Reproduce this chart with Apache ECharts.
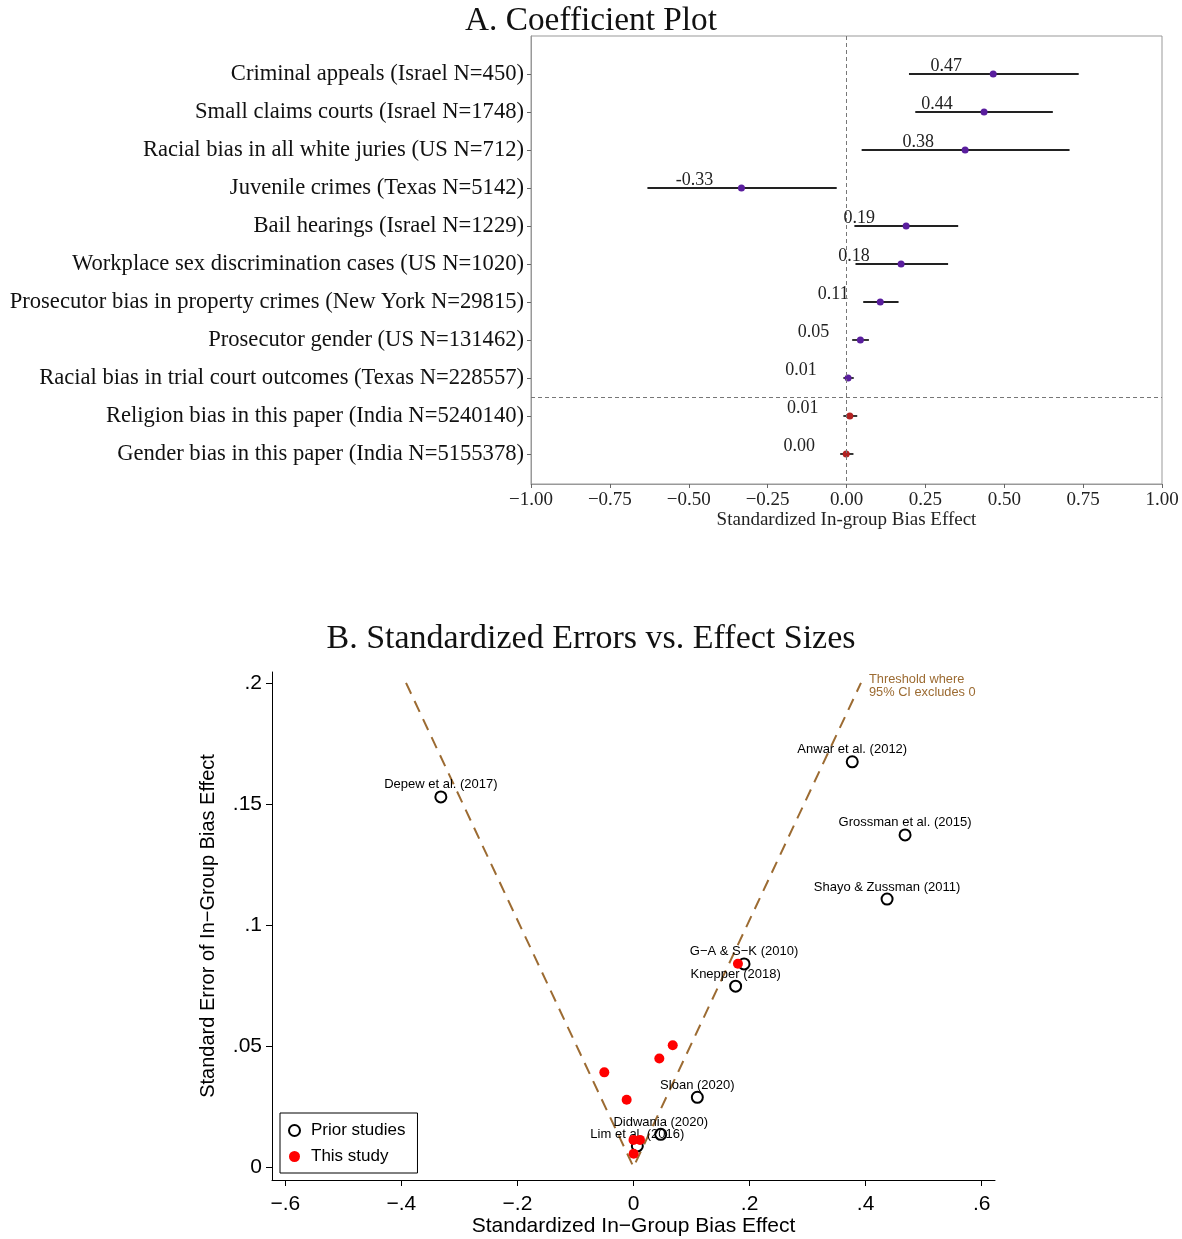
<!DOCTYPE html>
<html>
<head>
<meta charset="utf-8">
<script src="https://cdn.jsdelivr.net/npm/echarts@6/dist/echarts.min.js"></script>
<style>
html,body{margin:0;padding:0;background:#fff;}
#chart{width:1182px;height:1239px;}
</style>
</head>
<body>
<div id="chart"></div>
<script>
// ---------- Panel A data ----------
const rowLabels = [
  'Criminal appeals (Israel N=450)',
  'Small claims courts (Israel N=1748)',
  'Racial bias in all white juries (US N=712)',
  'Juvenile crimes (Texas N=5142)',
  'Bail hearings (Israel N=1229)',
  'Workplace sex discrimination cases (US N=1020)',
  'Prosecutor bias in property crimes (New York N=29815)',
  'Prosecutor gender (US N=131462)',
  'Racial bias in trial court outcomes (Texas N=228557)',
  'Religion bias in this paper (India N=5240140)',
  'Gender bias in this paper (India N=5155378)'
];
const pointEst = [0.465, 0.436, 0.376, -0.333, 0.189, 0.173, 0.107, 0.044, 0.005, 0.0105, -0.001];
const ciLow    = [0.198, 0.218, 0.048, -0.631, 0.025, 0.0285, 0.053, 0.018, -0.010, -0.010, -0.020];
const ciHigh   = [0.736, 0.654, 0.707, -0.031, 0.354, 0.322, 0.165, 0.071, 0.023, 0.034, 0.022];
const pointText = ['0.47', '0.44', '0.38', '-0.33', '0.19', '0.18', '0.11', '0.05', '0.01', '0.01', '0.00'];
const rowGroup = ['prior','prior','prior','prior','prior','prior','prior','prior','prior','this','this'];

// ---------- Panel B data ----------
const priorNames  = ['Depew et al. (2017)', 'Anwar et al. (2012)', 'Grossman et al. (2015)', 'Shayo & Zussman (2011)',
                     'G\u2212A & S\u2212K (2010)', 'Knepper (2018)', 'Sloan (2020)', 'Didwania (2020)', 'Lim et al. (2016)'];
const priorEffect = [-0.332, 0.377, 0.468, 0.437, 0.1905, 0.176, 0.110, 0.0469, 0.0066];
const priorSE     = [0.1529, 0.1674, 0.1372, 0.1107, 0.0839, 0.0747, 0.0288, 0.0135, 0.0087];
const studyEffect = [0.180, 0.0676, 0.0445, -0.0503, -0.0118, 0.000, 0.0112, 0.0003];
const studySE     = [0.0840, 0.0503, 0.0448, 0.0391, 0.0278, 0.0112, 0.0112, 0.0055];
const thresholdEffect = [-0.392, 0, 0.392];
const thresholdSE     = [0.2, 0, 0.2];
const thresholdText = 'Threshold where\n95% CI excludes 0';
const bottomXTicks = [-0.6, -0.4, -0.2, 0, 0.2, 0.4, 0.6];
const bottomYTicks = [0, 0.05, 0.1, 0.15, 0.2];

// ---------- helpers ----------
const SERIF = '"Liberation Serif", "DejaVu Serif", serif';
const SANS = '"Liberation Sans", Arial, sans-serif';
const PURPLE = '#5a1e9e';
const DARKRED = '#b22222';
const BROWN = '#9c6b32';
function stataFmt(v) {
  if (Math.abs(v) < 1e-9) return '0';
  const s = String(Math.abs(v)).replace(/^0/, '');
  return (v < 0 ? '\u2212' : '') + s;
}

const rowIdx = rowLabels.map((_, i) => i + 1);

const option = {
  animation: false,
  backgroundColor: '#fff',
  title: [
    { text: 'A. Coefficient Plot', left: 'center', top: 0,
      textStyle: { fontFamily: SERIF, fontSize: 33.3, fontWeight: 'normal', color: '#111' } },
    { text: 'B. Standardized Errors vs. Effect Sizes', left: 'center', top: 617,
      textStyle: { fontFamily: SERIF, fontSize: 34, fontWeight: 'normal', color: '#111' } }
  ],
  legend: {
    left: 280, top: 1113, orient: 'vertical',
    padding: [9, 12, 8, 8], itemGap: 9, itemWidth: 11, itemHeight: 11,
    borderColor: '#000', borderWidth: 1, backgroundColor: '#fff',
    textStyle: { fontFamily: SANS, fontSize: 17, color: '#000', padding: [0, 0, 0, 6] },
    data: [
      { name: 'Prior studies', icon: 'circle', itemStyle: { color: '#fff', borderColor: '#000', borderWidth: 2, opacity: 1 } },
      { name: 'This study', icon: 'circle', itemStyle: { color: '#ff0000', opacity: 1 } }
    ]
  },
  grid: [
    { left: 531, right: 20, top: 36, bottom: 755, show: true, borderColor: '#999', borderWidth: 1, containLabel: false },
    { left: 272, right: 187, top: 672, bottom: 59, containLabel: false }
  ],
  xAxis: [
    {
      gridIndex: 0, type: 'value', min: -1, max: 1, interval: 0.25,
      name: 'Standardized In-group Bias Effect', nameLocation: 'middle', nameGap: 26,
      nameTextStyle: { fontFamily: SERIF, fontSize: 19, color: '#222' },
      axisLine: { show: true, onZero: false, lineStyle: { color: '#999', width: 1 } },
      axisTick: { show: true, length: 4, lineStyle: { color: '#666' } },
      splitLine: { show: false },
      axisLabel: { fontFamily: SERIF, fontSize: 19, color: '#222', margin: 7,
        formatter: v => (v < 0 ? '\u2212' : '') + Math.abs(v).toFixed(2) }
    },
    {
      gridIndex: 1, type: 'value', min: -0.623, max: 0.623,
      name: 'Standardized In\u2212Group Bias Effect', nameLocation: 'middle', nameGap: 36,
      nameTextStyle: { fontFamily: SANS, fontSize: 21, color: '#000' },
      axisLine: { show: true, onZero: false, lineStyle: { color: '#000', width: 1 } },
      axisTick: { show: true, length: 6, customValues: bottomXTicks, lineStyle: { color: '#000' } },
      splitLine: { show: false },
      axisLabel: { fontFamily: SANS, fontSize: 21, color: '#000', margin: 14, customValues: bottomXTicks, formatter: stataFmt }
    }
  ],
  yAxis: [
    {
      gridIndex: 0, type: 'value', inverse: true, min: 0, max: 11.79,
      axisLine: { show: true, onZero: false, lineStyle: { color: '#999', width: 1 } },
      axisTick: { show: true, length: 4, customValues: rowIdx, lineStyle: { color: '#666' } },
      splitLine: { show: false },
      axisLabel: { fontFamily: SERIF, fontSize: 22.6, color: '#111', margin: 7, customValues: rowIdx,
        padding: [4, 0, 0, 0],
        formatter: v => rowLabels[Math.round(v) - 1] || '' }
    },
    {
      gridIndex: 1, type: 'value', min: -0.00537, max: 0.2045,
      name: 'Standard Error of In\u2212Group Bias Effect', nameLocation: 'middle', nameGap: 54, nameRotate: 90,
      nameTextStyle: { fontFamily: SANS, fontSize: 20, color: '#000' },
      axisLine: { show: true, onZero: false, lineStyle: { color: '#000', width: 1 } },
      axisTick: { show: true, length: 6, customValues: bottomYTicks, lineStyle: { color: '#000' } },
      splitLine: { show: false },
      axisLabel: { fontFamily: SANS, fontSize: 21, color: '#000', margin: 10, customValues: bottomYTicks, formatter: stataFmt }
    }
  ],
  series: [
    // Panel A: CI bars
    {
      type: 'custom', xAxisIndex: 0, yAxisIndex: 0,
      data: rowIdx.map((r, i) => [ciLow[i], ciHigh[i], r]),
      renderItem: function (params, api) {
        const p1 = api.coord([api.value(0), api.value(2)]);
        const p2 = api.coord([api.value(1), api.value(2)]);
        return { type: 'line', shape: { x1: p1[0], y1: p1[1], x2: p2[0], y2: p2[1] },
          style: { stroke: '#222', lineWidth: 1.8 } };
      },
      markLine: {
        silent: true, symbol: 'none', label: { show: false },
        lineStyle: { color: '#777', type: [4, 3], width: 1 },
        data: [{ xAxis: 0 }, { yAxis: 9.5 }]
      },
      z: 2
    },
    // Panel A: point estimates
    {
      type: 'scatter', xAxisIndex: 0, yAxisIndex: 0, symbol: 'circle', symbolSize: 7,
      data: rowIdx.map((r, i) => ({
        value: [pointEst[i], r],
        itemStyle: { color: rowGroup[i] === 'this' ? DARKRED : PURPLE, opacity: 1 },
        label: { formatter: pointText[i] }
      })),
      label: { show: true, position: 'top', distance: 0, offset: [-47, 5],
        fontFamily: SERIF, fontSize: 18, color: '#222' },
      z: 3
    },
    // Panel B: threshold
    {
      type: 'line', xAxisIndex: 1, yAxisIndex: 1, symbol: 'none', silent: true,
      data: thresholdEffect.map((x, i) => [x, thresholdSE[i]]),
      lineStyle: { color: BROWN, width: 2, type: [12, 8] },
      endLabel: { show: true, formatter: thresholdText, distance: 8, offset: [0, 3],
        fontFamily: SANS, fontSize: 12.8, lineHeight: 13, color: BROWN, align: 'left' },
      z: 1
    },
    // Panel B: prior studies
    {
      name: 'Prior studies', type: 'scatter', xAxisIndex: 1, yAxisIndex: 1,
      symbol: 'circle', symbolSize: 11,
      itemStyle: { color: 'rgba(255,255,255,0)', borderColor: '#000', borderWidth: 2, opacity: 1 },
      data: priorEffect.map((x, i) => ({ value: [x, priorSE[i]], name: priorNames[i] })),
      label: { show: true, position: 'top', distance: -1, formatter: p => p.name,
        fontFamily: SANS, fontSize: 13, color: '#000' },
      z: 3
    },
    // Panel B: this study
    {
      name: 'This study', type: 'scatter', xAxisIndex: 1, yAxisIndex: 1,
      symbol: 'circle', symbolSize: 10,
      itemStyle: { color: '#ff0000', opacity: 1 },
      data: studyEffect.map((x, i) => [x, studySE[i]]),
      z: 4
    }
  ]
};

const chart = echarts.init(document.getElementById('chart'), null, { renderer: 'canvas' });
chart.setOption(option);
</script>
</body>
</html>
